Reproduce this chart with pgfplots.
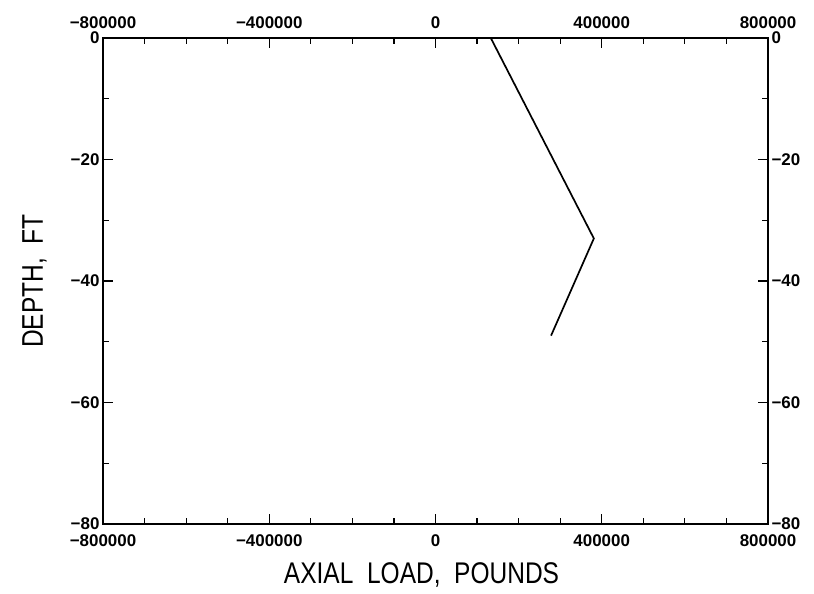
\documentclass[border=0pt]{standalone}
\usepackage{fontspec}
\setmainfont{Liberation Sans}
\usepackage{pgfplots}
\pgfplotsset{compat=1.18}
\begin{document}
\begin{tikzpicture}
\pgfplotsset{
  common/.style={
    scale only axis, width=665bp, height=486bp,
    xmin=-800000, xmax=800000, ymin=-80, ymax=0,
    xtick={-800000,-400000,0,400000,800000},
    xticklabels={\textbf{−800000},\textbf{−400000},\textbf{0},\textbf{400000},\textbf{800000}},
    minor x tick num=3,
    ytick={-80,-60,-40,-20,0},
    yticklabels={\textbf{−80},\textbf{−60},\textbf{−40},\textbf{−20},\textbf{0}},
    minor y tick num=1,
    scaled x ticks=false,
    tick align=inside,
    major tick length=10bp, minor tick length=6bp,
    every tick/.style={black, line width=1.2pt},
    axis line style={line width=1.6pt},
    tick label style={font=\fontsize{17}{19}\selectfont},
  }
}
\begin{axis}[common, name=ax,
  xticklabel style={yshift=-7bp},
  xlabel={\scalebox{0.82}[1]{AXIAL\ \ LOAD,\ \ POUNDS}},
  ylabel={\scalebox{0.82}[1]{DEPTH,\ \ FT}},
  label style={font=\fontsize{30}{32}\selectfont},
  xlabel style={at={(axis description cs:0.479,-0.105)}, anchor=center},
  ylabel style={at={(axis description cs:-0.103,0.5)}, anchor=center},
]
\addplot[black, line width=1.7pt] coordinates {
  (133000,0) (381000,-33) (278000,-49)
};
\end{axis}
\begin{axis}[common,
  xticklabel pos=upper, yticklabel pos=right,
  xticklabel style={yshift=6bp},
]
\end{axis}
\path (ax.south west) ++(-103bp,-70bp);
\path (ax.north east) ++(46bp,38bp);
\end{tikzpicture}
\end{document}
